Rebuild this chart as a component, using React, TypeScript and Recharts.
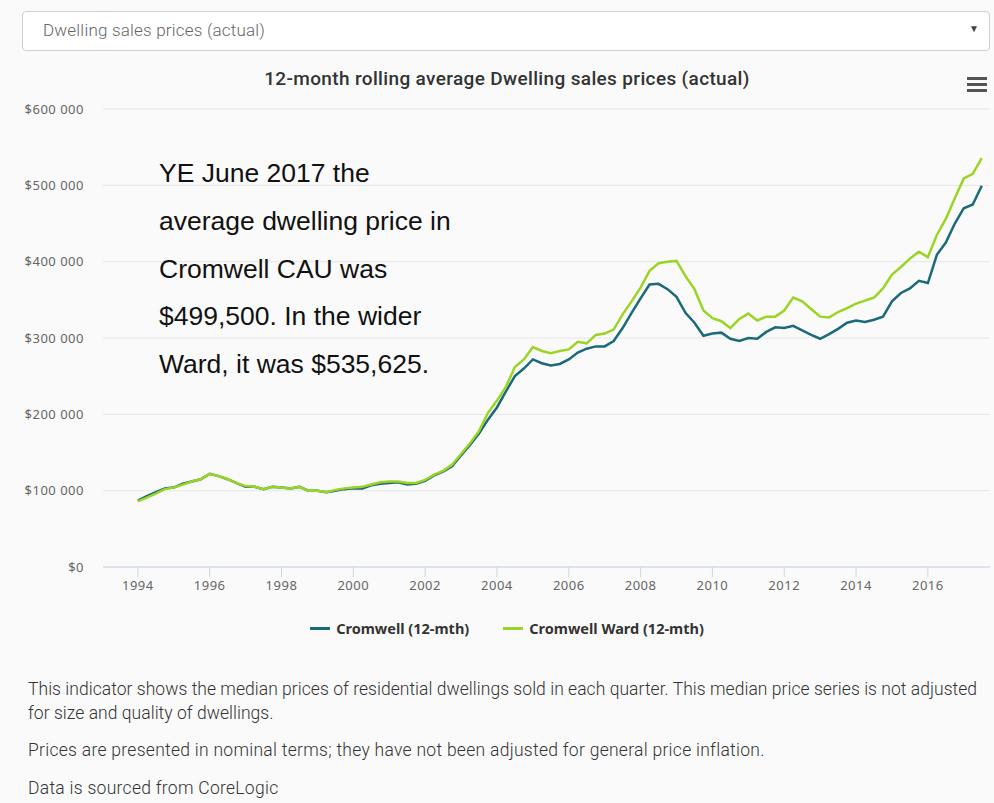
import React from 'react';
import { LineChart, Line, XAxis, YAxis, CartesianGrid } from 'recharts';

// quarterly 12-month rolling averages, $000, first point sits on Jan 1994
const START_YEAR = 1994;

const cromwell = [
  87,
  93, 98, 103, 104,
  109, 112, 115, 122,
  119, 115, 110, 105,
  105, 102, 105, 104,
  103, 105, 100, 100,
  98, 100, 102, 103,
  103, 107, 109, 110,
  111, 108, 109, 113,
  120, 125, 132, 146,
  160, 175, 193, 209,
  230, 250, 260, 272,
  267, 264, 266, 272,
  281, 286, 289, 289,
  296, 313, 333, 352,
  370, 371, 364, 354,
  333, 320, 303, 306,
  307, 299, 296, 300,
  299, 308, 314, 313,
  316, 310, 304, 299,
  305, 312, 320, 323,
  321, 324, 328, 348,
  359, 365, 375, 372,
  409, 425, 450, 470,
  475, 499.5,
];

const cromwellWard = [
  86,
  91, 96, 102, 104,
  108, 112, 115, 122,
  119, 115, 110, 106,
  105, 102, 105, 104,
  103, 105, 100, 100,
  98, 101, 103, 104,
  105, 108, 111, 112,
  112, 110, 110, 114,
  121, 126, 134, 148,
  162, 178, 202, 218,
  236, 262, 272, 288,
  283, 280, 283, 285,
  295, 293, 304, 306,
  311, 331, 348, 366,
  388, 398, 400, 401,
  381, 364, 336, 326,
  322, 313, 325, 332,
  323, 328, 328, 336,
  353, 348, 338, 328,
  327, 334, 339, 345,
  349, 353, 365, 383,
  393, 404, 413, 406,
  435, 456, 483, 509,
  515, 535.625,
];

const yearTicks = [1994, 1996, 1998, 2000, 2002, 2004, 2006, 2008, 2010, 2012, 2014, 2016];
const priceTicks = [0, 100, 200, 300, 400, 500, 600];

const TEAL = '#1a6a7a';
const GREEN = '#9ad424';

const data = cromwell.map((v, i) => ({
  t: START_YEAR + i / 4,
  cromwell: v,
  ward: cromwellWard[i],
}));

const fmtPrice = (v: number) => (v === 0 ? '$0' : `$${v} 000`);

const note = [
  'YE June 2017 the',
  'average dwelling price in',
  'Cromwell CAU was',
  '$499,500. In the wider',
  'Ward, it was $535,625.',
];

export default function App() {
  const font = 'Roboto, "Noto Sans", sans-serif';
  const tickFont = { fill: '#666', fontFamily: '"Noto Sans", sans-serif', letterSpacing: 0.5 };
  return (
    <div style={{ position: 'absolute', left: 0, top: 0, width: 994, height: 803, background: '#fafafa', fontFamily: font, overflow: 'hidden' }}>
      {/* dropdown */}
      <div style={{ position: 'absolute', left: 22, top: 11, width: 966, height: 38, border: '1px solid #cfcfcf', borderRadius: 4, background: '#fff' }}>
        <span style={{ position: 'absolute', left: 20, top: 8, fontSize: 17, letterSpacing: 0.2, fontWeight: 300, color: '#666' }}>Dwelling sales prices (actual)</span>
        <span style={{ position: 'absolute', right: 10, top: 11, fontSize: 10, color: '#444' }}>▼</span>
      </div>

      {/* title + menu */}
      <div style={{ position: 'absolute', left: 0, top: 67, width: 1014, textAlign: 'center', fontSize: 19, letterSpacing: 0.35, fontWeight: 500, color: '#333' }}>
        12-month rolling average Dwelling sales prices (actual)
      </div>
      <div style={{ position: 'absolute', left: 967, top: 77 }}>
        {[0, 6, 12].map((y) => (
          <div key={y} style={{ position: 'absolute', top: y, width: 20, height: 3, background: '#555' }} />
        ))}
      </div>

      <div style={{ position: 'absolute', left: 0, top: 60 }}>
        <LineChart width={994} height={570} data={data} margin={{ top: 49, right: 4, left: 0, bottom: 33 }}>
          <CartesianGrid horizontal vertical={false} stroke="#e6e6e6" />
          <XAxis
            dataKey="t"
            type="number"
            domain={[1993.03, 2017.73]}
            ticks={yearTicks}
            allowDataOverflow
            height={30}
            stroke="#ccd6eb"
            tickSize={10}
            tickMargin={4}
            tick={{ ...tickFont, fontSize: 13 }}
          />
          <YAxis
            domain={[0, 600]}
            ticks={priceTicks}
            width={103}
            axisLine={false}
            tickLine={false}
            tickSize={0}
            tickMargin={19}
            tickFormatter={fmtPrice}
            tick={{ ...tickFont, fontSize: 13 }}
          />
          <Line type="linear" dataKey="cromwell" stroke={TEAL} strokeWidth={2.5} dot={false} isAnimationActive={false} />
          <Line type="linear" dataKey="ward" stroke={GREEN} strokeWidth={2.5} dot={false} isAnimationActive={false} />
        </LineChart>
      </div>

      {/* annotation */}
      <div style={{ position: 'absolute', left: 159, top: 150, fontFamily: '"Liberation Sans", Arial, sans-serif', fontSize: 26.5, lineHeight: '47.8px', color: '#111' }}>
        {note.map((l) => (
          <div key={l}>{l}</div>
        ))}
      </div>

      {/* legend */}
      <div style={{ position: 'absolute', left: 0, top: 618, width: 1014, display: 'flex', justifyContent: 'center', gap: 34, fontSize: 14.5, fontWeight: 700, color: '#333', fontFamily: '"Noto Sans", sans-serif' }}>
        {[
          { name: 'Cromwell (12-mth)', color: TEAL },
          { name: 'Cromwell Ward (12-mth)', color: GREEN },
        ].map((s) => (
          <div key={s.name} style={{ display: 'flex', alignItems: 'center', gap: 6 }}>
            <div style={{ width: 20, height: 3, background: s.color }} />
            <span>{s.name}</span>
          </div>
        ))}
      </div>

      {/* footnotes */}
      <div style={{ position: 'absolute', left: 28, top: 677, width: 962, fontSize: 17.5, letterSpacing: 0.28, fontWeight: 300, color: '#333', lineHeight: '24px' }}>
        <p style={{ margin: 0, letterSpacing: 0.04, whiteSpace: 'nowrap' }}>
          This indicator shows the median prices of residential dwellings sold in each quarter. This median price series is not adjusted
          <br />
          for size and quality of dwellings.
        </p>
        <p style={{ margin: '13px 0 0' }}>Prices are presented in nominal terms; they have not been adjusted for general price inflation.</p>
        <p style={{ margin: '14px 0 0' }}>Data is sourced from CoreLogic</p>
      </div>
    </div>
  );
}
